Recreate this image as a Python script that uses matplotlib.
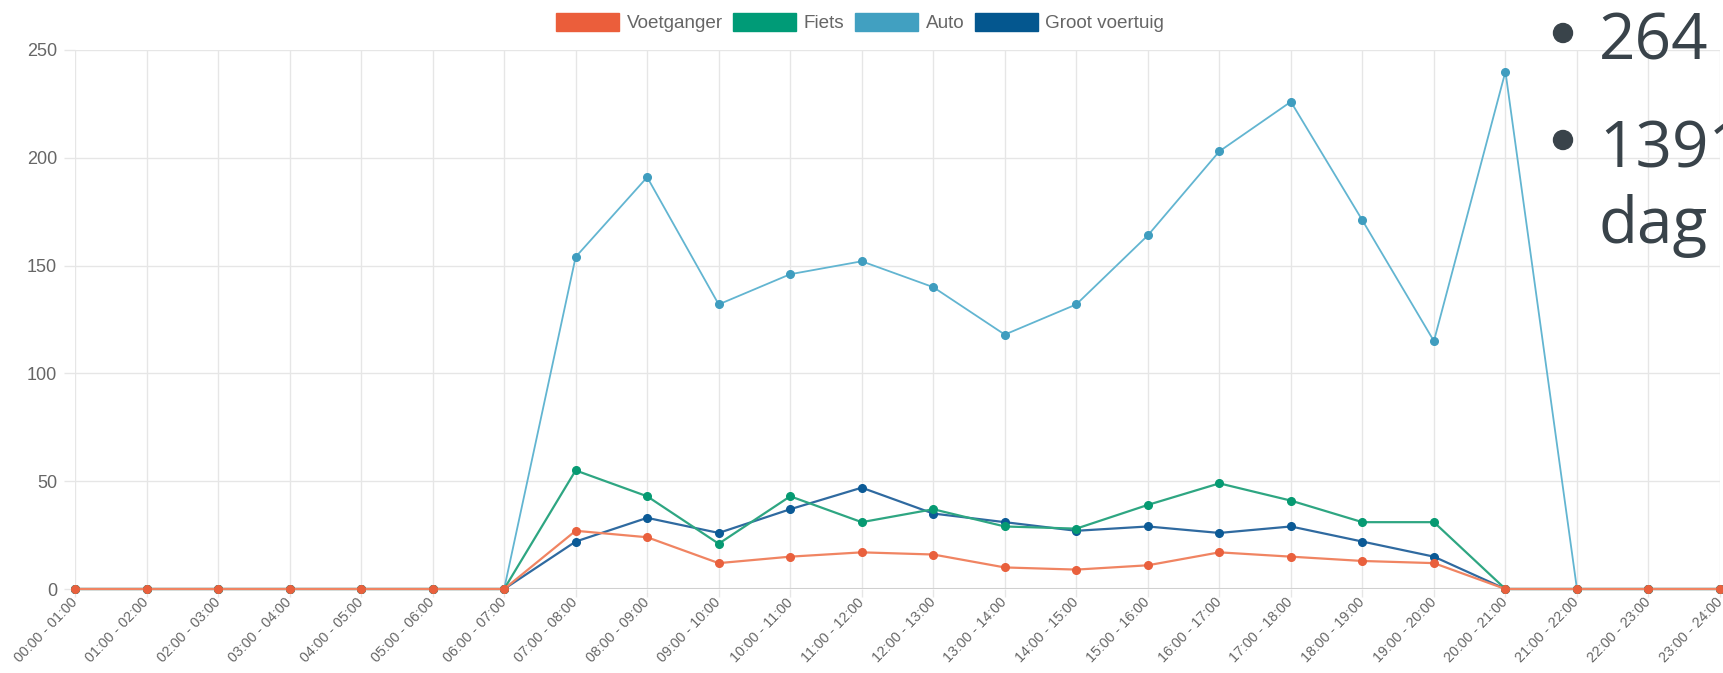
import matplotlib
matplotlib.use("Agg")
import matplotlib.pyplot as plt
from matplotlib.patches import Patch, Ellipse

# uren van de dag
hours = ["00:00 - 01:00", "01:00 - 02:00", "02:00 - 03:00", "03:00 - 04:00",
         "04:00 - 05:00", "05:00 - 06:00", "06:00 - 07:00", "07:00 - 08:00",
         "08:00 - 09:00", "09:00 - 10:00", "10:00 - 11:00", "11:00 - 12:00",
         "12:00 - 13:00", "13:00 - 14:00", "14:00 - 15:00", "15:00 - 16:00",
         "16:00 - 17:00", "17:00 - 18:00", "18:00 - 19:00", "19:00 - 20:00",
         "20:00 - 21:00", "21:00 - 22:00", "22:00 - 23:00", "23:00 - 24:00"]

voetganger = [0, 0, 0, 0, 0, 0, 0, 27, 24, 12, 15, 17, 16, 10, 9, 11, 17, 15, 13, 12, 0, 0, 0, 0]
fiets = [0, 0, 0, 0, 0, 0, 0, 55, 43, 21, 43, 31, 37, 29, 28, 39, 49, 41, 31, 31, 0, 0, 0, 0]
auto = [0, 0, 0, 0, 0, 0, 0, 154, 191, 132, 146, 152, 140, 118, 132, 164, 203, 226, 171, 115, 240, 0, 0, 0]
groot = [0, 0, 0, 0, 0, 0, 0, 22, 33, 26, 37, 47, 35, 31, 27, 29, 26, 29, 22, 15, 0, 0, 0, 0]

y_ticks = [0, 50, 100, 150, 200, 250]

W, H = 1724, 673
fig = plt.figure(figsize=(W / 100, H / 100), dpi=100)
ax = fig.add_axes([75 / W, 1 - 589 / H, (1720 - 75) / W, (589 - 50) / H])

grid_c = "#e6e6e6"
txt_c = "#666666"
x = list(range(len(hours)))

# (naam, data, lijnkleur, puntkleur, legendakleur, lijndikte, zorder)
series = [
    ("Groot voertuig", groot, "#2f6aa0", "#0b5a96", "#04578f", 1.6, 3),
    ("Auto", auto, "#62b5d1", "#3f9dbf", "#41a0c1", 1.3, 4),
    ("Fiets", fiets, "#2ea682", "#069a72", "#009b77", 1.6, 5),
    ("Voetganger", voetganger, "#f08462", "#e9603d", "#eb5e3b", 1.6, 6),
]

for name, vals, lc, pc, _, lw, z in series:
    ax.plot(x, vals, color=lc, lw=lw, marker="o", ms=5.5, mfc=pc, mec=pc,
            zorder=z, clip_on=False)

ax.axhline(0, color="#d0d0d0", lw=2.2, zorder=2)

ax.set_xlim(0, 23)
ax.set_ylim(0, 250)
ax.set_xticks(x)
ax.set_xticklabels(hours, rotation=46, ha="right", va="center",
                   rotation_mode="anchor", fontsize=10.3, color=txt_c,
                   family="Liberation Sans")
ax.set_yticks(y_ticks)
ax.set_yticklabels([str(v) for v in y_ticks], fontsize=13, color=txt_c,
                   family="Liberation Sans")
ax.tick_params(axis="x", length=6, color=grid_c, width=1, pad=2)
ax.tick_params(axis="y", length=8, color=grid_c, width=1, pad=5)
ax.grid(True, color=grid_c, lw=1)
ax.set_axisbelow(True)
for s in ax.spines.values():
    s.set_visible(False)

handles = [Patch(facecolor=s[4], edgecolor=s[4], label=s[0]) for s in reversed(series)]
fig.legend(handles=handles, loc="center", bbox_to_anchor=(860 / W, 1 - 22.5 / H),
           ncol=4, frameon=False, labelcolor=txt_c,
           prop={"family": "Liberation Sans", "size": 13.6},
           handlelength=3.35, handleheight=1.1, handletextpad=0.4,
           columnspacing=0.55)

# tekst van de dia die over de grafiek valt
slide_c = "#39434a"
for by in (33, 140):
    fig.add_artist(Ellipse((1563 / W, 1 - by / H), 19 / W, 19 / H,
                           transform=fig.transFigure, color=slide_c))
fig.text(1599 / W, 1 - 60 / H, "264", ha="left", va="baseline",
         fontsize=46, color=slide_c, family="Open Sans")
fig.text(1599 / W, 1 - 167 / H, "1391", ha="left", va="baseline",
         fontsize=46, color=slide_c, family="Open Sans")
fig.text(1599 / W, 1 - 243 / H, "dag", ha="left", va="baseline",
         fontsize=46, color=slide_c, family="Open Sans")

fig.savefig("out.png", dpi=100)
